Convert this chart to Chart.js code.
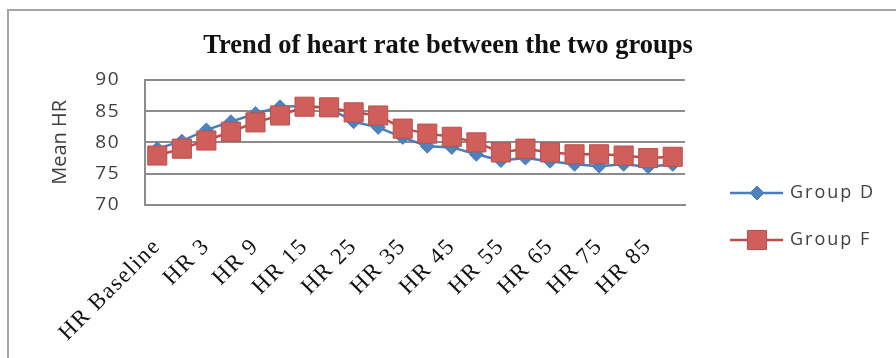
<!DOCTYPE html>
<html>
<head>
<meta charset="utf-8">
<script src="https://cdn.jsdelivr.net/npm/chart.js@4"></script>
<style>
    html, body { margin: 0; padding: 0; background: #fff; }
    #wrap { width: 896px; height: 358px; }
</style>
</head>
<body>
<div id="wrap"><canvas id="hrChart" width="896" height="358"></canvas></div>
<script>
const timeLabels = ['HR Baseline', 'HR 1', 'HR 3', 'HR 6', 'HR 9', 'HR 12', 'HR 15', 'HR 20', 'HR 25', 'HR 30', 'HR 35',
    'HR 40', 'HR 45', 'HR 50', 'HR 55', 'HR 60', 'HR 65', 'HR 70', 'HR 75', 'HR 80', 'HR 85', 'HR 90'];
const groupD = [79.0, 80.2, 82.0, 83.3, 84.6, 85.7, 85.8, 85.5, 83.3, 82.4, 80.8,
    79.4, 79.2, 78.1, 77.1, 77.5, 77.0, 76.5, 76.2, 76.5, 76.1, 76.5];
const groupF = [77.9, 79.0, 80.3, 81.7, 83.2, 84.3, 85.7, 85.6, 84.8, 84.3, 82.2,
    81.4, 80.9, 80.0, 78.4, 79.0, 78.4, 78.1, 78.1, 77.9, 77.5, 77.7];
const seriesNames = ['Group D', 'Group F'];
const yTicks = [70, 75, 80, 85, 90];

// frame round the chart (top and left edge only, like the scan)
const framePlugin = {
    id: 'frame',
    beforeDraw(chart) {
        const ctx = chart.ctx;
        ctx.save();
        ctx.strokeStyle = '#a6a6a6';
        ctx.lineWidth = 2;
        ctx.beginPath();
        ctx.moveTo(8, 358);
        ctx.lineTo(8, 10);
        ctx.lineTo(896, 10);
        ctx.stroke();
        ctx.restore();
    }
};

// Excel-like legend: line with marker, then the label
const sideLegend = {
    id: 'sideLegend',
    afterDraw(chart) {
        const ctx = chart.ctx;
        const ys = [193, 240];
        ctx.save();
        ctx.letterSpacing = '2px';
        chart.data.datasets.forEach((ds, i) => {
            const y = ys[i];
            ctx.strokeStyle = ds.borderColor;
            ctx.lineWidth = 2.5;
            ctx.beginPath();
            ctx.moveTo(730, y);
            ctx.lineTo(783, y);
            ctx.stroke();
            ctx.fillStyle = ds.pointBackgroundColor;
            ctx.strokeStyle = ds.pointBorderColor;
            ctx.lineWidth = 1;
            Chart.helpers.drawPoint(ctx, {
                pointStyle: ds.pointStyle,
                radius: ds.pointRadius,
                borderWidth: 1
            }, 757, y);
            ctx.fillStyle = '#404040';
            ctx.font = '18px "Open Sans"';
            ctx.textBaseline = 'middle';
            ctx.textAlign = 'left';
            ctx.fillText(ds.label, 790, y);
        });
        ctx.restore();
    }
};

// the scan has wide lettering on the axes; title is plain
const spacing = {
    id: 'spacing',
    beforeUpdate(chart) { chart.ctx.letterSpacing = '0px'; },
    beforeDraw(chart) { chart.ctx.letterSpacing = '0px'; },
    afterDatasetsDraw(chart) { chart.ctx.letterSpacing = '1.5px'; },
    afterDraw(chart) { chart.ctx.letterSpacing = '0px'; }
};

const ctx = document.getElementById('hrChart').getContext('2d');
const hrChart = new Chart(ctx, {
    type: 'line',
    data: {
        labels: timeLabels,
        datasets: [
            {
                label: seriesNames[0],
                data: groupD,
                borderColor: '#4a7ebb',
                borderWidth: 2.5,
                pointStyle: 'rectRot',
                pointRadius: 7,
                pointBackgroundColor: '#4f81bd',
                pointBorderColor: '#4a7ebb',
                pointBorderWidth: 1,
                tension: 0,
                order: 1
            },
            {
                label: seriesNames[1],
                data: groupF,
                borderColor: '#be4b48',
                borderWidth: 2.5,
                pointStyle: 'rect',
                pointRadius: 13.5,
                pointBackgroundColor: '#d05e5b',
                pointBorderColor: '#b9514e',
                pointBorderWidth: 1,
                tension: 0,
                order: 0
            }
        ]
    },
    options: {
        responsive: false,
        animation: false,
        layout: { padding: 0 },
        scales: {
            x: {
                offset: true,
                grid: { display: false, drawTicks: false },
                border: { display: true, color: '#8c8c8c', width: 2 },
                ticks: {
                    z: 1,
                    autoSkip: false,
                    maxRotation: 45,
                    minRotation: 45,
                    padding: 28,
                    color: '#111',
                    font: { family: '"Liberation Serif"', size: 23 },
                    callback: function(value, index) {
                        return index % 2 === 0 ? this.getLabelForValue(value) : '';
                    }
                },
                afterFit: s => { s.height = 153; }
            },
            y: {
                min: 70,
                max: 90,
                afterBuildTicks: s => { s.ticks = yTicks.map(v => ({ value: v })); },
                grid: { color: '#8c8c8c', lineWidth: 2, drawTicks: false },
                border: { display: true, color: '#8c8c8c', width: 2 },
                ticks: {
                    z: 1,
                    padding: 25,
                    color: '#404040',
                    font: { family: '"Open Sans"', size: 19 }
                },
                title: {
                    display: true,
                    text: 'Mean HR',
                    color: '#404040',
                    font: { family: '"Open Sans"', size: 20 },
                    padding: { top: 48, bottom: 0 }
                },
                afterFit: s => { s.width = 145; }
            },
            yRight: {
                position: 'right',
                grid: { display: false, drawTicks: false },
                border: { display: false },
                ticks: { display: false },
                afterFit: s => { s.width = 211; }
            }
        },
        plugins: {
            legend: { display: false },
            tooltip: { enabled: false },
            title: {
                display: true,
                text: 'Trend of heart rate between the two groups',
                color: '#111',
                font: { family: '"Liberation Serif"', size: 26.5, weight: 'bold' },
                padding: { top: 30, bottom: 18 }
            }
        }
    },
    plugins: [spacing, framePlugin, sideLegend]
});
</script>
</body>
</html>
